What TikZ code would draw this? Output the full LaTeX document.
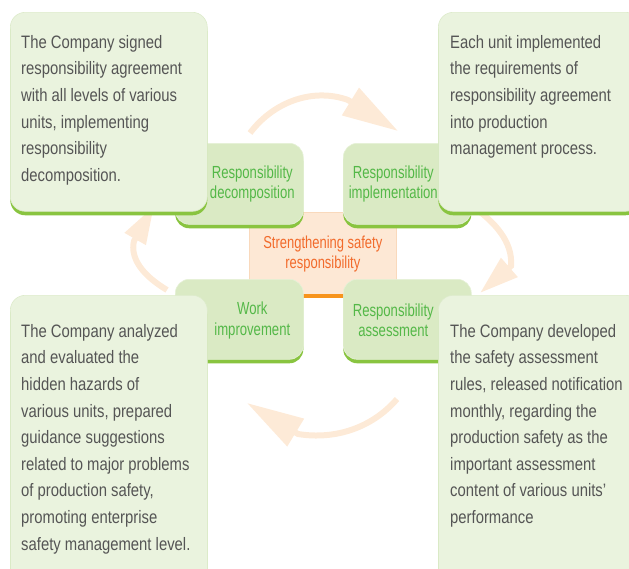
\documentclass[tikz,border=0pt]{standalone}
\usepackage{fontspec}
\setmainfont{Liberation Sans}[FakeStretch=0.825]
\newfontfamily\tabfont{Liberation Sans}[FakeStretch=0.75]
\usetikzlibrary{arrows.meta,positioning,shadows}

\definecolor{cardfill}{HTML}{EAF3DE}
\definecolor{cardedge}{HTML}{DDEBCB}
\definecolor{tabfill}{HTML}{DAEAC4}
\definecolor{tabedge}{HTML}{E6F1D8}
\definecolor{edgegreen}{HTML}{89C440}
\definecolor{labelgreen}{HTML}{54B848}
\definecolor{bodygray}{HTML}{555555}
\definecolor{hubfill}{HTML}{FDE8D5}
\definecolor{hubedge}{HTML}{F9D9BC}
\definecolor{hubtext}{HTML}{F26B2C}
\definecolor{hubline}{HTML}{F7941D}
\definecolor{arrowpeach}{HTML}{FDEAD7}

\begin{document}
\begin{tikzpicture}[x=1pt,y=-1pt,
        card/.style={draw=cardedge, line width=0.6pt, fill=cardfill, rounded corners=15pt, anchor=north west, inner sep=0pt, general shadow={shadow yshift=-4pt, fill=edgegreen}},
        tab/.style={draw=tabedge, line width=0.6pt, fill=tabfill, rounded corners=14pt, anchor=north west, inner sep=0pt, minimum width=128pt, general shadow={shadow yshift=-4pt, fill=edgegreen}},
        hub/.style={draw=hubedge, line width=0.6pt, fill=hubfill, anchor=north west, inner sep=0pt, minimum width=147pt, minimum height=83pt, align=center, text=hubtext, font=\tabfont\fontsize{17.3}{20}\selectfont},
        body/.style={text=bodygray, align=left, inner sep=0pt, font=\fontsize{18}{26.6}\selectfont},
        tablabel/.style={text=labelgreen, align=center, inner sep=0pt, font=\tabfont\fontsize{17.5}{20.5}\selectfont},
        cycle/.style={draw=arrowpeach, line width=6pt}
    ]
    \useasboundingbox (0,0) rectangle (629,568);

    % cycle arrows
    \coordinate (t1s) at (250,133); \coordinate (t1b) at (348,100); \coordinate (t1t) at (398,131);
    \coordinate (t2s) at (472,206); \coordinate (t2b) at (511,266); \coordinate (t2t) at (480,293);
    \coordinate (t3s) at (397,399); \coordinate (t3b) at (298,434); \coordinate (t3t) at (247,403);
    \coordinate (t4s) at (167,290); \coordinate (t4b) at (134,241); \coordinate (t4t) at (154,206);
    \draw[cycle, -{Triangle[length=56pt,width=31pt]}] (t1s) .. controls (275,100) and (315,88) .. (t1b) -- (t1t);
    \draw[cycle, -{Triangle[length=39pt,width=24pt]}] (t2s) .. controls (495,222) and (513,242) .. (t2b) -- (t2t);
    \draw[cycle, -{Triangle[length=57pt,width=31pt]}] (t3s) .. controls (372,428) and (335,440) .. (t3b) -- (t3t);
    \draw[cycle, -{Triangle[length=38pt,width=23pt]}] (t4s) .. controls (142,275) and (130,258) .. (t4b) -- (t4t);

    \node[hub] (hub) at (249,212) {Strengthening safety\\responsibility};
    \draw[hubline, line width=4pt] (hub.south west) -- (hub.south east);

    \node[tab, minimum height=81pt] (decbox) at (175,143) {};
    \node[tab, minimum height=81pt] (implbox) at (343,143) {};
    \node[tab, minimum height=80pt] (workbox) at (175,279) {};
    \node[tab, minimum height=80pt] (assessbox) at (343,279) {};
    \node[tablabel, xshift=13pt] (declabel) at (decbox.center) {Responsibility\\decomposition};
    \node[tablabel, xshift=-14pt] (impllabel) at (implbox.center) {Responsibility\\implementation};
    \node[tablabel, xshift=13pt, yshift=-1pt] (worklabel) at (workbox.center) {Work\\improvement};
    \node[tablabel, xshift=-14pt, yshift=-1pt] (assesslabel) at (assessbox.center) {Responsibility\\assessment};

    \node[card, minimum width=197pt, minimum height=199pt] (signbox) at (10,12) {};
    \node[card, minimum width=202pt, minimum height=199pt] (unitbox) at (438,12) {};
    \node[card, minimum width=197pt, minimum height=290pt] (hazardbox) at (10,295) {};
    \node[card, minimum width=202pt, minimum height=290pt] (rulebox) at (438,295) {};

    \node[body, below right=23pt and 11pt of signbox.north west] (signtext) {The Company signed\\responsibility agreement\\with all levels of various\\units, implementing\\responsibility\\decomposition.};
    \node[body, below right=23pt and 12pt of unitbox.north west] (unittext) {Each unit implemented\\the requirements of\\responsibility agreement\\into production\\management process.};
    \node[body, below right=29pt and 11pt of hazardbox.north west] (hazardtext) {The Company analyzed\\and evaluated the\\hidden hazards of\\various units, prepared\\guidance suggestions\\related to major problems\\of production safety,\\promoting enterprise\\safety management level.};
    \node[body, below right=29pt and 12pt of rulebox.north west] (ruletext) {The Company developed\\the safety assessment\\rules, released notification\\monthly, regarding the\\production safety as the\\important assessment\\content of various units'\\performance};
\end{tikzpicture}
\end{document}
